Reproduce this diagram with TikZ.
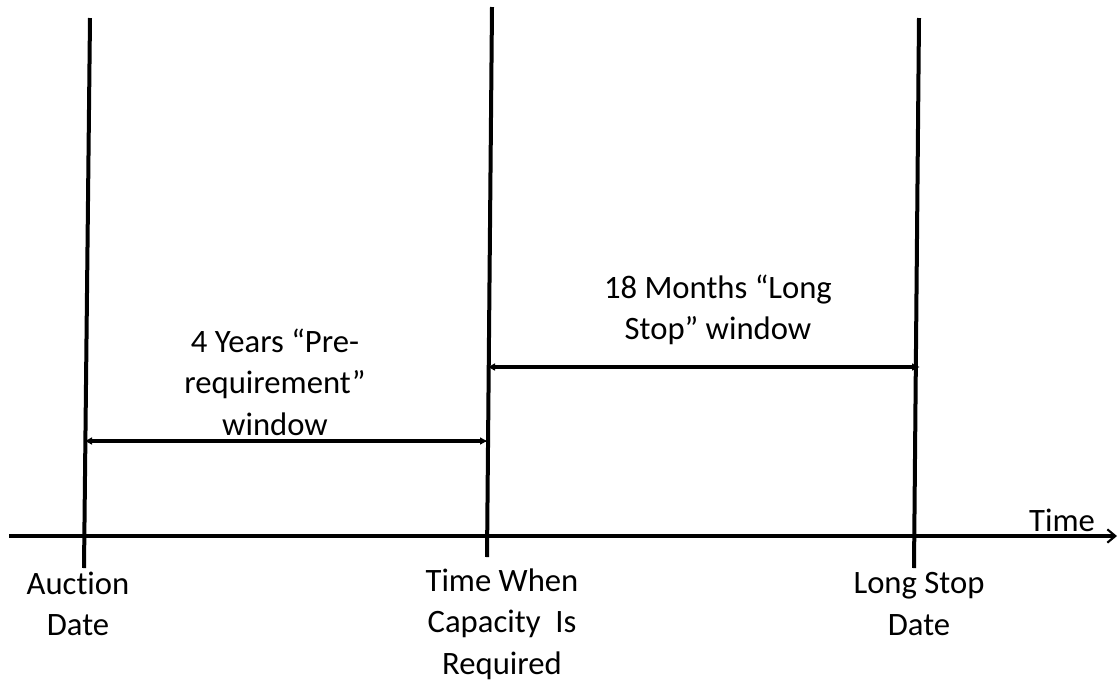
\documentclass[tikz,border=0pt]{standalone}
\usepackage{fontspec}
\setmainfont[Ligatures={NoCommon}]{Carlito}
\usetikzlibrary{arrows.meta}
\begin{document}
\begin{tikzpicture}[x=0.75pt,y=-0.75pt,
  marker/.style={line width=3pt,black},
  span/.style={line width=2.3pt,{Latex[length=6pt,width=6pt]}-{Latex[length=6pt,width=6pt]}},
  axis/.style={line width=2.3pt,-{Straight Barb[length=6pt,width=10pt,line width=1.6pt]}},
  lbl/.style={align=center,font=\fontsize{24.5}{31}\selectfont,inner sep=0pt}]
\useasboundingbox (0,0) rectangle (1118,683);
% time axis
\coordinate (a0) at (9,536);
\coordinate (a1) at (1117,536);
\draw[axis] (a0) -- (a1);
\node[lbl] (time) at (1062,520) {Time};
% event markers
\coordinate (t1) at (90,18);  \coordinate (b1) at (84,568);
\coordinate (t2) at (492,7);  \coordinate (b2) at (487,557);
\coordinate (t3) at (919,18); \coordinate (b3) at (914,568);
\draw[marker] (t1) -- (b1);
\draw[marker] (t2) -- (b2);
\draw[marker] (t3) -- (b3);
% windows
\coordinate (p0) at (84,441);  \coordinate (p1) at (488,441);
\coordinate (q0) at (487,367); \coordinate (q1) at (920,367);
\draw[span] (p0) -- (p1);
\draw[span] (q0) -- (q1);
\node[lbl] (pre) at (275,382) {4 Years “Pre-\\requirement”\\window};
\node[lbl] (long) at (718,310) {18 Months “Long\\Stop” window};
% event labels
\node[lbl] (auction) at (78,604) {Auct\kern0pt ion\\Date};
\node[lbl] (required) at (502,624) {Time When\\Capacity\ \ Is\\Required};
\node[lbl] (stop) at (919,604) {Long Stop\\Date};
\end{tikzpicture}
\end{document}
